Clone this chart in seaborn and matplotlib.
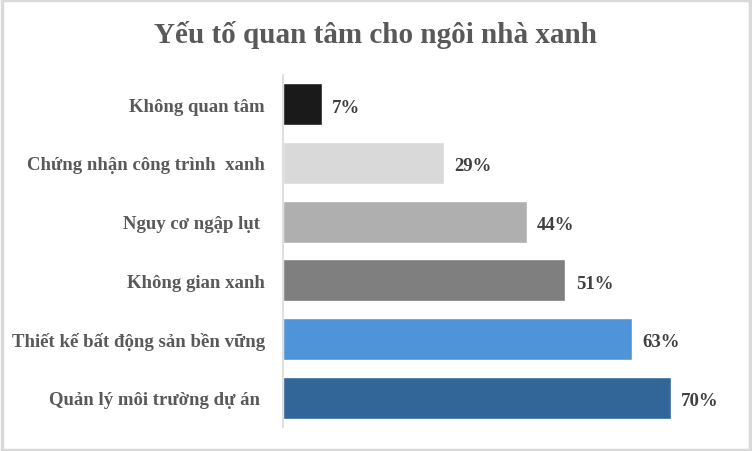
import matplotlib
matplotlib.use("Agg")
import matplotlib.pyplot as plt
import seaborn as sns
import pandas as pd

categories = [
    "Không quan tâm",
    "Chứng nhận công trình  xanh",
    "Nguy cơ ngập lụt ",
    "Không gian xanh",
    "Thiết kế bất động sản bền vững",
    "Quản lý môi trường dự án ",
]
values = [7, 29, 44, 51, 63, 70]
colors = ["#1a1a1a", "#d9d9d9", "#afafaf", "#7f7f7f", "#4f94d8", "#326699"]

df = pd.DataFrame({"cat": categories, "val": values})

sns.set_style("white")
plt.rcParams["font.family"] = ["Liberation Serif", "DejaVu Serif"]

fig = plt.figure(figsize=(7.52, 4.52), dpi=100)
ax = fig.add_axes([283 / 752, 1 - 428 / 452, 443 / 752, (428 - 76) / 452])

sns.barplot(data=df, x="val", y="cat", hue="cat", palette=colors, saturation=1,
            legend=False, width=0.72, ax=ax, orient="h")

ax.set_xlim(0, 80)
ax.set_xlabel("")
ax.set_ylabel("")
ax.set_xticks([])
for s in ["top", "right", "bottom"]:
    ax.spines[s].set_visible(False)
ax.spines["left"].set_color("#d9d9d9")
ax.spines["left"].set_linewidth(1.2)
ax.tick_params(axis="y", length=0, pad=13)
for lbl in ax.get_yticklabels():
    lbl.set_fontsize(13.5)
    lbl.set_fontweight("bold")
    lbl.set_color("#595959")

for i, v in enumerate(values):
    ax.text(v + 1.9, i + 0.05, f"{v}%", va="center", ha="left",
            fontsize=13.5, fontweight="bold", color="#404040")

fig.text(0.5, 1 - 35 / 452, "Yếu tố quan tâm cho ngôi nhà xanh",
         ha="center", va="center", fontsize=21, fontweight="bold", color="#595959")

# light grey frame around the chart
fig.patches.append(plt.Rectangle((0.002, 0.003), 0.996, 0.994, transform=fig.transFigure,
                                 fill=False, edgecolor="#d9d9d9", linewidth=2.5))

fig.savefig("out.png", dpi=100)
